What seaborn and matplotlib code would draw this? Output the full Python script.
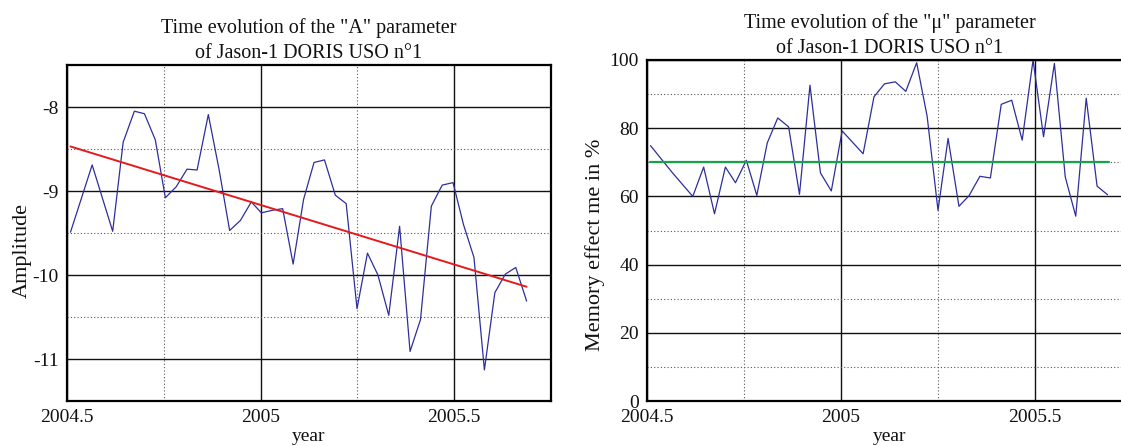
import matplotlib
matplotlib.use("Agg")
import matplotlib.pyplot as plt
import numpy as np
import pandas as pd
import seaborn as sns
from matplotlib.ticker import MultipleLocator

# ---------------- data ----------------
amp_years = [2004.509, 2004.565, 2004.618, 2004.645, 2004.674, 2004.700, 2004.728,
             2004.754, 2004.782, 2004.810, 2004.836, 2004.865, 2004.893, 2004.920,
             2004.948, 2004.976, 2005.002, 2005.030, 2005.057, 2005.084, 2005.111,
             2005.138, 2005.165, 2005.193, 2005.221, 2005.249, 2005.276, 2005.303,
             2005.331, 2005.359, 2005.386, 2005.413, 2005.441, 2005.469, 2005.497,
             2005.524, 2005.551, 2005.578, 2005.605, 2005.632, 2005.659, 2005.687]
amplitude = [-9.49, -8.69, -9.48, -8.42, -8.05, -8.08, -8.39,
             -9.08, -8.95, -8.74, -8.75, -8.09, -8.75, -9.47,
             -9.35, -9.13, -9.26, -9.23, -9.21, -9.87, -9.10,
             -8.66, -8.63, -9.05, -9.15, -10.40, -9.74, -10.00,
             -10.48, -9.42, -10.91, -10.53, -9.18, -8.93, -8.90,
             -9.40, -9.79, -11.13, -10.21, -9.99, -9.91, -10.31]
trend_years = [2004.509, 2005.687]
trend_amp = [-8.47, -10.14]

mu_years = [2004.509, 2004.565, 2004.618, 2004.646, 2004.674, 2004.702, 2004.728,
            2004.756, 2004.783, 2004.810, 2004.837, 2004.865, 2004.893, 2004.920,
            2004.947, 2004.975, 2005.003, 2005.057, 2005.085, 2005.112, 2005.140,
            2005.167, 2005.195, 2005.222, 2005.250, 2005.276, 2005.304, 2005.330,
            2005.358, 2005.385, 2005.413, 2005.440, 2005.467, 2005.495, 2005.522,
            2005.550, 2005.578, 2005.605, 2005.632, 2005.660, 2005.687]
memory_pct = [74.9, 67.0, 60.0, 68.6, 54.9, 68.6, 64.0,
              70.6, 60.3, 75.7, 83.0, 80.4, 60.6, 92.6,
              66.9, 61.6, 79.2, 72.5, 89.2, 93.0, 93.6,
              90.8, 99.2, 83.5, 55.9, 77.0, 57.1, 60.2,
              65.9, 65.4, 87.0, 88.2, 76.5, 100.0, 77.5,
              99.0, 65.7, 54.2, 88.8, 63.0, 60.5]
mean_years = [2004.509, 2005.690]
mean_pct = [70.0, 70.0]

titles = ['Time evolution of the "A" parameter\nof Jason-1 DORIS USO n°1',
          'Time evolution of the "\u03bc" parameter\nof Jason-1 DORIS USO n°1']
ylabels = ["Amplitude", "Memory effect me in %"]
xlabel = "year"

# ---------------- style ----------------
sns.set_theme(style="white")
plt.rcParams["font.family"] = ["Liberation Serif", "DejaVu Serif"]

W, H = 1121, 446
fig = plt.figure(figsize=(W / 100, H / 100), dpi=100)

def px_axes(x0, y0, x1, y1):
    return fig.add_axes([x0 / W, 1 - y1 / H, (x1 - x0) / W, (y1 - y0) / H])

ax1 = px_axes(67, 65, 551, 401)
ax2 = px_axes(647, 60, 1132, 401)

blue = "#2e2e9c"

df_a = pd.DataFrame({"year": amp_years, "amp": amplitude})
df_t = pd.DataFrame({"year": trend_years, "amp": trend_amp})
sns.lineplot(data=df_a, x="year", y="amp", ax=ax1, color=blue, lw=0.9)
sns.lineplot(data=df_t, x="year", y="amp", ax=ax1, color="#e41a1c", lw=1.4)

df_m = pd.DataFrame({"year": mu_years, "pct": memory_pct})
df_g = pd.DataFrame({"year": mean_years, "pct": mean_pct})
sns.lineplot(data=df_m, x="year", y="pct", ax=ax2, color=blue, lw=0.9)
sns.lineplot(data=df_g, x="year", y="pct", ax=ax2, color="#17a34a", lw=1.6)

ax1.set_ylim(-11.5, -7.5)
ax1.yaxis.set_major_locator(MultipleLocator(1))
ax1.yaxis.set_minor_locator(MultipleLocator(0.5))
ax2.set_ylim(0, 100)
ax2.yaxis.set_major_locator(MultipleLocator(20))
ax2.yaxis.set_minor_locator(MultipleLocator(10))

label_xy = [(-0.073, 0.449), (-0.086, 0.457)]
for ax, t, yl, lxy in zip([ax1, ax2], titles, ylabels, label_xy):
    ax.set_xlim(2004.5, 2005.75)
    ax.xaxis.set_major_locator(MultipleLocator(0.5))
    ax.xaxis.set_minor_locator(MultipleLocator(0.25))
    ax.set_xticks([2004.5, 2005, 2005.5])
    ax.set_xticklabels(["2004.5", "2005", "2005.5"])
    ax.grid(True, which="major", color="#111111", lw=1.0, ls="-")
    ax.grid(True, which="minor", color="#555555", lw=0.8, ls=(0, (1, 2)))
    ax.set_axisbelow(True)
    for s in ax.spines.values():
        s.set_color("black")
        s.set_linewidth(1.6)
    ax.tick_params(which="both", length=0, labelsize=14, colors="#111111", pad=6)
    ax.set_title(t, fontsize=14.5, pad=5, linespacing=1.4, color="#111111")
    ax.set_ylabel(yl, fontsize=16, color="#111111")
    ax.yaxis.set_label_coords(*lxy)
    ax.set_xlabel(xlabel, fontsize=14, color="#111111", labelpad=1)

ax1.set_yticks([-11, -10, -9, -8])
ax1.set_yticklabels(["-11", "-10", "-9", "-8"])

fig.savefig("out.png", dpi=100)
